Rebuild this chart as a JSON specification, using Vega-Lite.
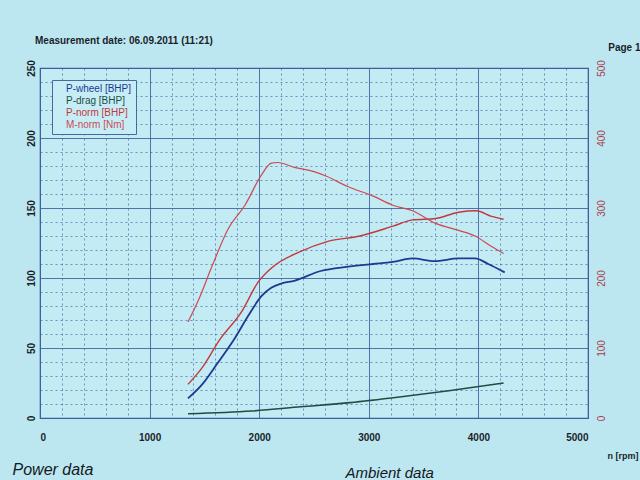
{
  "$schema": "https://vega.github.io/schema/vega-lite/v6.json",
  "width": 548,
  "height": 350,
  "autosize": {"type": "none"},
  "padding": {"left": 40, "top": 68, "right": 52, "bottom": 62},
  "background": "#bde7f0",
  "config": {
    "font": "Liberation Sans",
    "view": {"stroke": "#3d5e9c", "strokeWidth": 1.2, "fill": "#c3ebf3"}
  },
  "title": {
    "text": "Measurement date: 06.09.2011 (11:21)",
    "anchor": "start",
    "frame": "group",
    "fontSize": 10,
    "fontWeight": "bold",
    "color": "#1a1f2a",
    "dx": -5,
    "dy": 8,
    "offset": 4
  },
  "datasets": {
    "dyno": [
      {"series": "P-wheel [BHP]", "rpm": 1350, "value": 14},
      {"series": "P-wheel [BHP]", "rpm": 1480, "value": 24},
      {"series": "P-wheel [BHP]", "rpm": 1610, "value": 38},
      {"series": "P-wheel [BHP]", "rpm": 1770, "value": 56},
      {"series": "P-wheel [BHP]", "rpm": 1900, "value": 73},
      {"series": "P-wheel [BHP]", "rpm": 2020, "value": 87},
      {"series": "P-wheel [BHP]", "rpm": 2110, "value": 93},
      {"series": "P-wheel [BHP]", "rpm": 2200, "value": 96},
      {"series": "P-wheel [BHP]", "rpm": 2320, "value": 98},
      {"series": "P-wheel [BHP]", "rpm": 2560, "value": 105},
      {"series": "P-wheel [BHP]", "rpm": 2800, "value": 108},
      {"series": "P-wheel [BHP]", "rpm": 3040, "value": 110},
      {"series": "P-wheel [BHP]", "rpm": 3220, "value": 111.5},
      {"series": "P-wheel [BHP]", "rpm": 3400, "value": 114},
      {"series": "P-wheel [BHP]", "rpm": 3600, "value": 112},
      {"series": "P-wheel [BHP]", "rpm": 3820, "value": 114},
      {"series": "P-wheel [BHP]", "rpm": 3970, "value": 114},
      {"series": "P-wheel [BHP]", "rpm": 4090, "value": 110},
      {"series": "P-wheel [BHP]", "rpm": 4240, "value": 104},
      {"series": "P-drag [BHP]", "rpm": 1350, "value": 3},
      {"series": "P-drag [BHP]", "rpm": 1930, "value": 5},
      {"series": "P-drag [BHP]", "rpm": 2380, "value": 8},
      {"series": "P-drag [BHP]", "rpm": 2830, "value": 11},
      {"series": "P-drag [BHP]", "rpm": 3280, "value": 15},
      {"series": "P-drag [BHP]", "rpm": 3730, "value": 19.5},
      {"series": "P-drag [BHP]", "rpm": 4230, "value": 25},
      {"series": "P-norm [BHP]", "rpm": 1350, "value": 24},
      {"series": "P-norm [BHP]", "rpm": 1480, "value": 36},
      {"series": "P-norm [BHP]", "rpm": 1640, "value": 56},
      {"series": "P-norm [BHP]", "rpm": 1840, "value": 76},
      {"series": "P-norm [BHP]", "rpm": 1990, "value": 97},
      {"series": "P-norm [BHP]", "rpm": 2110, "value": 107},
      {"series": "P-norm [BHP]", "rpm": 2380, "value": 119},
      {"series": "P-norm [BHP]", "rpm": 2620, "value": 126},
      {"series": "P-norm [BHP]", "rpm": 2920, "value": 130},
      {"series": "P-norm [BHP]", "rpm": 3220, "value": 137},
      {"series": "P-norm [BHP]", "rpm": 3400, "value": 141.5},
      {"series": "P-norm [BHP]", "rpm": 3610, "value": 142.5},
      {"series": "P-norm [BHP]", "rpm": 3820, "value": 147},
      {"series": "P-norm [BHP]", "rpm": 3980, "value": 148},
      {"series": "P-norm [BHP]", "rpm": 4120, "value": 144},
      {"series": "P-norm [BHP]", "rpm": 4230, "value": 142},
      {"series": "M-norm [Nm]", "rpm": 1350, "value": 137},
      {"series": "M-norm [Nm]", "rpm": 1450, "value": 170},
      {"series": "M-norm [Nm]", "rpm": 1570, "value": 217},
      {"series": "M-norm [Nm]", "rpm": 1720, "value": 271},
      {"series": "M-norm [Nm]", "rpm": 1870, "value": 304},
      {"series": "M-norm [Nm]", "rpm": 2020, "value": 347},
      {"series": "M-norm [Nm]", "rpm": 2110, "value": 364},
      {"series": "M-norm [Nm]", "rpm": 2170, "value": 365},
      {"series": "M-norm [Nm]", "rpm": 2320, "value": 358},
      {"series": "M-norm [Nm]", "rpm": 2500, "value": 352},
      {"series": "M-norm [Nm]", "rpm": 2620, "value": 345},
      {"series": "M-norm [Nm]", "rpm": 2800, "value": 331},
      {"series": "M-norm [Nm]", "rpm": 3040, "value": 317},
      {"series": "M-norm [Nm]", "rpm": 3220, "value": 304},
      {"series": "M-norm [Nm]", "rpm": 3400, "value": 296},
      {"series": "M-norm [Nm]", "rpm": 3610, "value": 278},
      {"series": "M-norm [Nm]", "rpm": 3820, "value": 268},
      {"series": "M-norm [Nm]", "rpm": 3970, "value": 260},
      {"series": "M-norm [Nm]", "rpm": 4120, "value": 245},
      {"series": "M-norm [Nm]", "rpm": 4230, "value": 235}
    ]
  },
  "data": {"name": "dyno"},
  "layer": [
    {
      "transform": [{"filter": "datum.series === 'P-wheel [BHP]'"}],
      "mark": {"type": "line", "interpolate": "monotone", "strokeWidth": 1.8},
      "encoding": {
        "x": {
          "field": "rpm", "type": "quantitative",
          "scale": {"domain": [0, 5000], "nice": false},
          "axis": {
            "values": [0,200,400,600,800,1000,1200,1400,1600,1800,2000,2200,2400,2600,2800,3000,3200,3400,3600,3800,4000,4200,4400,4600,4800,5000],
            "labelExpr": "datum.value % 1000 === 0 ? datum.label : ''",
            "format": "d",
            "ticks": false, "domain": false,
            "grid": true,
            "gridColor": "#3d5e9c",
            "gridOpacity": {"condition": {"test": "datum.value % 1000 === 0", "value": 0.85}, "value": 0.65},
            "gridDash": {"condition": {"test": "datum.value % 1000 === 0", "value": []}, "value": [2, 3]},
            "labelFontSize": 10, "labelFontWeight": "bold", "labelColor": "#1a1f2a",
            "labelPadding": 14,
            "title": "n [rpm]",
            "titleFontSize": 9, "titleFontWeight": "bold", "titleColor": "#1a1f2a",
            "titleAnchor": "end", "titleAlign": "right",
            "titleX": 598, "titleY": 33
          }
        },
        "y": {
          "field": "value", "type": "quantitative",
          "scale": {"domain": [0, 250], "nice": false},
          "axis": {
            "values": [0,10,20,30,40,50,60,70,80,90,100,110,120,130,140,150,160,170,180,190,200,210,220,230,240,250],
            "labelExpr": "datum.value % 50 === 0 ? datum.label : ''",
            "ticks": false, "domain": false,
            "grid": true,
            "gridColor": "#3d5e9c",
            "gridOpacity": {"condition": {"test": "datum.value % 50 === 0", "value": 0.85}, "value": 0.65},
            "gridDash": {"condition": {"test": "datum.value % 50 === 0", "value": []}, "value": [2, 3]},
            "labelAngle": -90, "labelAlign": "center", "labelBaseline": "bottom",
            "labelPadding": 4,
            "labelFontSize": 10, "labelFontWeight": "bold", "labelColor": "#1a1f2a",
            "title": null
          }
        },
        "color": {
          "field": "series", "type": "nominal",
          "scale": {
            "domain": ["P-wheel [BHP]", "P-drag [BHP]", "P-norm [BHP]", "M-norm [Nm]"],
            "range": ["#1c3a92", "#1f4d46", "#c2383f", "#cc4a55"]
          },
          "legend": {
            "title": null,
            "orient": "top-left",
            "offset": 12,
            "padding": 4,
            "strokeColor": "#4a6a9a",
            "fillColor": "#c6edf5",
            "symbolSize": 0,
            "symbolStrokeWidth": 0,
            "symbolOpacity": 0,
            "labelOffset": 0,
            "labelFontSize": 10,
            "labelFontWeight": 500,
            "rowPadding": 2,
            "encode": {"labels": {"update": {"fill": {"scale": "color", "field": "value"}}}}
          }
        }
      }
    },
    {
      "transform": [{"filter": "datum.series === 'P-drag [BHP]'"}],
      "mark": {"type": "line", "interpolate": "monotone", "strokeWidth": 1.6},
      "encoding": {
        "x": {
          "field": "rpm", "type": "quantitative",
          "axis": {
            "orient": "bottom", "labels": false, "ticks": false, "domain": false, "grid": false,
            "title": "Power data",
            "titleFontSize": 16, "titleFontStyle": "italic", "titleFontWeight": "normal",
            "titleColor": "#14181f",
            "titleAnchor": "start", "titleAlign": "left", "titleBaseline": "alphabetic",
            "titleX": -28, "titleY": 56
          }
        },
        "y": {"field": "value", "type": "quantitative", "scale": {"domain": [0, 250], "nice": false}, "axis": null},
        "color": {"field": "series", "type": "nominal"}
      }
    },
    {
      "transform": [{"filter": "datum.series === 'P-norm [BHP]'"}],
      "mark": {"type": "line", "interpolate": "monotone", "strokeWidth": 1.4},
      "encoding": {
        "x": {
          "field": "rpm", "type": "quantitative",
          "axis": {
            "orient": "bottom", "labels": false, "ticks": false, "domain": false, "grid": false,
            "title": "Ambient data",
            "titleFontSize": 15, "titleFontStyle": "italic", "titleFontWeight": "normal",
            "titleColor": "#14181f",
            "titleAnchor": "start", "titleAlign": "left", "titleBaseline": "alphabetic",
            "titleX": 305, "titleY": 59
          }
        },
        "y": {"field": "value", "type": "quantitative", "scale": {"domain": [0, 250], "nice": false}, "axis": null},
        "color": {"field": "series", "type": "nominal"}
      }
    },
    {
      "transform": [{"filter": "datum.series === 'M-norm [Nm]'"}],
      "mark": {"type": "line", "interpolate": "monotone", "strokeWidth": 1.2},
      "encoding": {
        "x": {
          "field": "rpm", "type": "quantitative",
          "axis": {
            "orient": "top", "labels": false, "ticks": false, "domain": false, "grid": false,
            "title": "Page 1",
            "titleFontSize": 10, "titleFontWeight": "bold", "titleColor": "#1a1f2a",
            "titleAnchor": "end", "titleAlign": "right",
            "titleX": 600, "titleY": -16
          }
        },
        "y": {
          "field": "value", "type": "quantitative",
          "scale": {"domain": [0, 500], "nice": false},
          "axis": {
            "orient": "right",
            "values": [0, 100, 200, 300, 400, 500],
            "ticks": false, "domain": false, "grid": false,
            "labelAngle": -90, "labelAlign": "center", "labelBaseline": "top",
            "labelPadding": 8,
            "labelFontSize": 10, "labelColor": "#a8404f",
            "title": null
          }
        },
        "color": {"field": "series", "type": "nominal"}
      }
    }
  ],
  "resolve": {"scale": {"y": "independent"}, "axis": {"x": "independent", "y": "independent"}}
}
